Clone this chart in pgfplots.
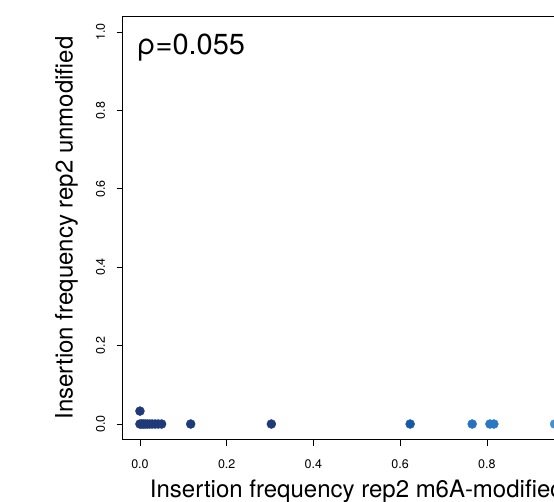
\documentclass[border=0pt]{standalone}
\usepackage{pgfplots}
\pgfplotsset{compat=1.18}
\usepackage{fontspec}
\setmainfont{TeX Gyre Heros}
\definecolor{dk}{HTML}{1F3A78}
\definecolor{bA}{HTML}{1859A6}
\definecolor{bB}{HTML}{2473BC}
\definecolor{bC}{HTML}{2879C2}
\definecolor{bD}{HTML}{4590D0}
\begin{document}
\begin{tikzpicture}
\useasboundingbox (0pt,0pt) rectangle (554pt,502pt);
\clip (0pt,0pt) rectangle (554pt,502pt);
\begin{axis}[
  at={(122.6pt,62.3pt)}, anchor=south west,
  scale only axis, width=468.4pt, height=423.4pt,
  xmin=-0.04, xmax=1.04, ymin=-0.04, ymax=1.04,
  xtick={0,0.2,0.4,0.6,0.8,1.0}, ytick={0,0.2,0.4,0.6,0.8,1.0},
  xtick pos=left, ytick pos=left, tick align=outside,
  major tick length=6pt,
  every tick/.style={black, line width=0.8pt},
  axis line style={black, line width=0.8pt},
  /pgf/number format/assume math mode=true,
  /pgf/number format/fixed, /pgf/number format/fixed zerofill,
  /pgf/number format/precision=1,
  ticklabel style={font=\fontsize{12.5}{14}\selectfont},
  xticklabel style={yshift=-10pt},
  yticklabel style={rotate=90, anchor=south, yshift=8pt},
  xlabel={Insertion frequency rep2 m6A-modified},
  ylabel={Insertion frequency rep2 unmodified},
  label style={font=\fontsize{24}{28}\selectfont},
  xlabel style={at={(axis description cs:0.5,0)}, anchor=base, yshift=-58pt},
  ylabel style={at={(axis description cs:0,0.5)}, anchor=base, yshift=50pt},
  clip=false,
]
\addplot[only marks, mark=*, mark size=4.5pt, color=dk] coordinates {
(0,0.033) (0,0) (0.004,0) (0.008,0) (0.012,0) (0.017,0) (0.022,0) (0.028,0) (0.035,0) (0.042,0) (0.050,0) (0.117,0) (0.303,0)};
\addplot[only marks, mark=*, mark size=4.5pt, color=bA] coordinates {(0.623,0)};
\addplot[only marks, mark=*, mark size=4.5pt, color=bB] coordinates {(0.766,0)};
\addplot[only marks, mark=*, mark size=4.5pt, color=bC] coordinates {(0.807,0) (0.816,0)};
\addplot[only marks, mark=*, mark size=4.5pt, color=bD] coordinates {(0.956,0)};
\node[anchor=base west, font=\fontsize{29}{34}\selectfont] at (rel axis cs:0,1) [xshift=11pt, yshift=-38pt] {ρ=0.055};
\end{axis}
\end{tikzpicture}
\end{document}
